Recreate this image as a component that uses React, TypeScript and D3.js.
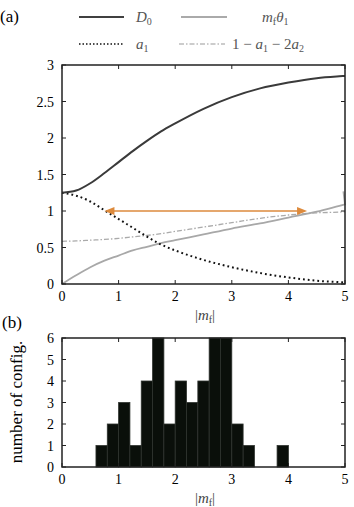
import React from "react";
import * as d3 from "d3";

// panel (a) curves
const xGrid = [0, 0.25, 0.5, 0.75, 1, 1.25, 1.5, 1.75, 2, 2.5, 3, 3.5, 4, 4.5, 4.9, 5];
const D0 = [1.25, 1.28, 1.38, 1.52, 1.67, 1.82, 1.96, 2.09, 2.2, 2.4, 2.56, 2.68, 2.76, 2.82, 2.845, 2.85];
const mTheta = [0, 0.12, 0.23, 0.32, 0.39, 0.46, 0.51, 0.56, 0.6, 0.68, 0.76, 0.83, 0.91, 0.99, 1.07, 1.09];
const a1 = [1.25, 1.21, 1.13, 1.01, 0.89, 0.77, 0.65, 0.54, 0.46, 0.33, 0.23, 0.15, 0.09, 0.045, 0.025, 0.02];
const oneMinus = [0.585, 0.59, 0.6, 0.61, 0.625, 0.645, 0.665, 0.69, 0.72, 0.78, 0.84, 0.9, 0.945, 0.975, 0.985, 0.99];
const mThetaJump = [4.99, 1.27];
const arrowRange = [0.75, 4.33];
const arrowLevel = 1;

// panel (b) histogram
const binStarts = [0.6, 0.8, 1.0, 1.2, 1.4, 1.6, 1.8, 2.0, 2.2, 2.4, 2.6, 2.8, 3.0, 3.2, 3.4, 3.6, 3.8];
const counts = [1, 2, 3, 1, 4, 6, 2, 4, 3, 4, 6, 6, 2, 1, 0, 0, 1];
const binWidth = 0.2;

const xTicks = [0, 1, 2, 3, 4, 5];
const yTicksA = [0, 0.5, 1, 1.5, 2, 2.5, 3];
const yTicksB = [0, 1, 2, 3, 4, 5, 6];

const FONT = "Liberation Serif, Times New Roman, serif";

function Frame({ x, y, xt, yt, fmt }: any) {
  const [x0, x1] = x.range();
  const [y0, y1] = y.range();
  const t = 4;
  return (
    <g>
      {xt.map((v: number) => (
        <g key={"x" + v}>
          <line x1={x(v)} x2={x(v)} y1={y0} y2={y0 - t} stroke="#222" />
          <line x1={x(v)} x2={x(v)} y1={y1} y2={y1 + t} stroke="#222" />
          <text x={x(v)} y={y0 + 17} textAnchor="middle" fontSize={14}>
            {v}
          </text>
        </g>
      ))}
      {yt.map((v: number) => (
        <g key={"y" + v}>
          <line x1={x0} x2={x0 + t} y1={y(v)} y2={y(v)} stroke="#222" />
          <line x1={x1} x2={x1 - t} y1={y(v)} y2={y(v)} stroke="#222" />
          <text x={x0 - 8} y={y(v) + 5} textAnchor="end" fontSize={14}>
            {fmt(v)}
          </text>
        </g>
      ))}
      <rect x={x0} y={y1} width={x1 - x0} height={y0 - y1} fill="none" stroke="#222" strokeWidth={1.5} />
    </g>
  );
}

function MfLabel({ cx, y }: any) {
  return (
    <text x={cx} y={y} textAnchor="middle" fontSize={15} fill="#444">
      |<tspan fontStyle="italic">m</tspan>
      <tspan fontSize={10} dy={3}>f</tspan>
      <tspan dy={-3}>|</tspan>
    </text>
  );
}

export default function App() {
  const W = 354;
  const H = 507;
  const xA = d3.scaleLinear().domain([0, 5]).range([62, 345]);
  const yA = d3.scaleLinear().domain([0, 3]).range([284, 65]);
  const xB = d3.scaleLinear().domain([0, 5]).range([62, 345]);
  const yB = d3.scaleLinear().domain([0, 6]).range([467, 338]);

  const mk = (ys: number[], n = ys.length) =>
    d3
      .line<number>()
      .x((_, i) => xA(xGrid[i]))
      .y((d) => yA(d))
      .curve(d3.curveMonotoneX)(ys.slice(0, n)) as string;

  const mThetaPath = mk(mTheta) + `L${xA(mThetaJump[0]) - 1},${yA(mThetaJump[1])}`;

  const ax0 = xA(arrowRange[0]);
  const ax1 = xA(arrowRange[1]);
  const ay = yA(arrowLevel);
  const orange = "#dd8a3c";

  return (
    <svg width={W} height={H} style={{ position: "absolute", left: 0, top: 0, fontFamily: FONT }}>
      <rect width={W} height={H} fill="#fff" />
      {/* panel labels */}
      <text x={0} y={22} fontSize={17}>(a)</text>
      <text x={2} y={328} fontSize={17}>(b)</text>

      {/* legend */}
      <line x1={79} x2={124} y1={17} y2={17} stroke="#404040" strokeWidth={2} />
      <text x={136} y={22} fontSize={15} fill="#555" fontStyle="italic">
        D<tspan fontSize={10} dy={3} fontStyle="normal">0</tspan>
      </text>
      <line x1={181} x2={227} y1={17} y2={17} stroke="#aaa" strokeWidth={2} />
      <text x={262} y={22} fontSize={15} fill="#555" fontStyle="italic">
        m<tspan fontSize={10} dy={3} fontStyle="normal">f</tspan>
        <tspan dy={-3}>θ</tspan>
        <tspan fontSize={10} dy={3} fontStyle="normal">1</tspan>
      </text>
      <line x1={79} x2={124} y1={44} y2={44} stroke="#111" strokeWidth={1.6} strokeDasharray="1.5,2" />
      <text x={136} y={49} fontSize={15} fill="#555" fontStyle="italic">
        a<tspan fontSize={10} dy={3} fontStyle="normal">1</tspan>
      </text>
      <line x1={179} x2={225} y1={44} y2={44} stroke="#999" strokeWidth={1.2} strokeDasharray="5,2,1.5,2" />
      <text x={232} y={49} fontSize={15} fill="#555">
        1 − <tspan fontStyle="italic">a</tspan>
        <tspan fontSize={10} dy={3}>1</tspan>
        <tspan dy={-3}> − 2</tspan>
        <tspan fontStyle="italic">a</tspan>
        <tspan fontSize={10} dy={3}>2</tspan>
      </text>

      {/* panel (a) */}
      <path d={mk(oneMinus)} fill="none" stroke="#aaa" strokeWidth={1.3} strokeDasharray="5,2,1.5,2" />
      <path d={mThetaPath} fill="none" stroke="#a8a8a8" strokeWidth={1.8} />
      <path d={mk(a1)} fill="none" stroke="#111" strokeWidth={2} strokeDasharray="1.8,3" />
      <path d={mk(D0)} fill="none" stroke="#3a3a3a" strokeWidth={2} />
      <line x1={ax0 + 8} x2={ax1 - 8} y1={ay} y2={ay} stroke={orange} strokeWidth={1.6} />
      <path d={`M${ax0},${ay}L${ax0 + 10},${ay - 4}L${ax0 + 10},${ay + 4}Z`} fill={orange} />
      <path d={`M${ax1},${ay}L${ax1 - 10},${ay - 4}L${ax1 - 10},${ay + 4}Z`} fill={orange} />
      <Frame x={xA} y={yA} xt={xTicks} yt={yTicksA} fmt={(v: number) => String(v)} />
      <MfLabel cx={205} y={320} />

      {/* panel (b) */}
      {binStarts.map((b, i) =>
        counts[i] > 0 ? (
          <rect
            key={b}
            x={xB(b)}
            y={yB(counts[i])}
            width={xB(b + binWidth) - xB(b)}
            height={yB(0) - yB(counts[i])}
            fill="#0a0f0a"
            stroke="#2e332e"
            strokeWidth={0.8}
          />
        ) : null
      )}
      <Frame x={xB} y={yB} xt={xTicks} yt={yTicksB} fmt={(v: number) => String(v)} />
      <MfLabel cx={205} y={503} />
      <text transform={`translate(22,${402}) rotate(-90)`} textAnchor="middle" fontSize={17}>
        number of config.
      </text>
    </svg>
  );
}
